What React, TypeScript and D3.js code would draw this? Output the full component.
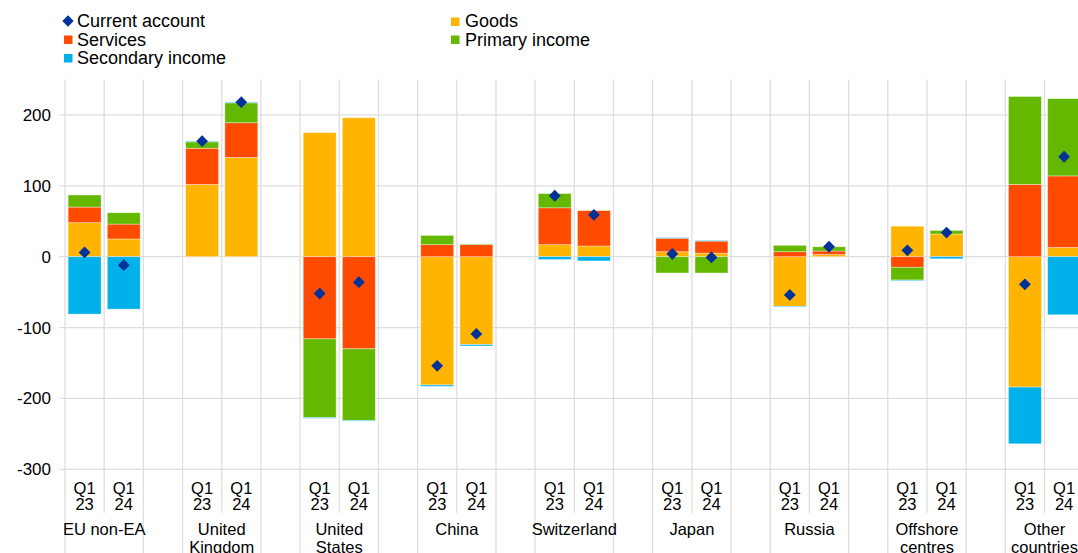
import React from 'react';
import * as d3 from 'd3';

const categories = ['EU non-EA', 'United Kingdom', 'United States', 'China', 'Switzerland', 'Japan', 'Russia', 'Offshore centres', 'Other countries'];
const categoryLines = [['EU non-EA'], ['United', 'Kingdom'], ['United', 'States'], ['China'], ['Switzerland'], ['Japan'], ['Russia'], ['Offshore', 'centres'], ['Other', 'countries']];
const periods = ['Q1 23', 'Q1 24'];

// one value per bar: category by category, Q1 23 then Q1 24
const goods = [48, 25, 102, 140, 175, 196, -181, -124, 17, 15, 7, 5, -70, 3, 43, 32, -184, 13];
const services = [22, 21, 51, 49, -116, -130, 17, 17, 52, 50, 19, 17, 7, 5, -15, 0, 102, 101];
const primaryIncome = [17, 16, 9, 28, -111, -101, 13, 1, 20, 0, -23, -23, 9, 6, -18, 5, 124, 109];
const secondaryIncome = [-81, -74, 1, 1, -1, -1, -2, -2, -4, -6, 1, 1, -1, 0, -1, -3, -80, -82];
const currentAccount = [6, -12, 163, 218, -52, -36, -154, -109, 86, 59, 4, -1, -54, 14, 9, 34, -39, 141];

const yTicks = [200, 100, 0, -100, -200, -300];

const seriesKeys = ['goods', 'services', 'primary', 'secondary'];
const colors = {
    goods: '#FFB400',
    services: '#FF4B00',
    primary: '#65B800',
    secondary: '#00B1EA',
    current: '#003299',
};

const W = 1078;
const H = 553;
const left = 65;
const slotW = 39.18;
const top = 79.5;
const bottom = 469.3;
const font = 'Arial, "Liberation Sans", sans-serif';

const App = () => {
    // every category gets two bar slots and one empty slot
    const slots: string[] = [];
    categories.forEach((c) => {
        slots.push(`${c}|0`, `${c}|1`, `${c}|gap`);
    });

    const x = d3.scaleBand().domain(slots).range([left, left + slots.length * slotW]).padding(0);
    const y = d3.scaleLinear().domain([-300, 250]).range([bottom, top]);
    const bw = x.bandwidth();
    const barW = bw * 0.84;

    const rows = goods.map((g, i) => ({
        key: `${categories[Math.floor(i / 2)]}|${i % 2}`,
        goods: g,
        services: services[i],
        primary: primaryIncome[i],
        secondary: secondaryIncome[i],
        current: currentAccount[i],
    }));

    const stacked = d3.stack().keys(seriesKeys).offset(d3.stackOffsetDiverging)(rows as any);
    const diamond = d3.symbol().type(d3.symbolSquare).size(70)();

    const gridColor = '#dedede';

    return (
        <svg width={W} height={H} style={{ position: 'absolute', left: 0, top: 0, background: '#fff' }} fontFamily={font}>
            {/* horizontal grid */}
            {yTicks.map((t) => (
                <g key={t}>
                    <line x1={59} x2={W + 60} y1={y(t)} y2={y(t)} stroke={gridColor} strokeWidth={1.3} />
                    <text x={51} y={y(t)} dy="0.35em" textAnchor="end" fontSize={17} fill="#000">{t}</text>
                </g>
            ))}

            {/* vertical grid */}
            {slots.map((s, k) => (
                <line key={s} x1={x(s)} x2={x(s)} y1={top} y2={k % 3 === 1 ? 513 : H} stroke={gridColor} strokeWidth={1.3} />
            ))}

            {/* stacked bars */}
            {stacked.map((layer) => (
                <g key={layer.key} fill={colors[layer.key]}>
                    {layer.map((d, i) => {
                        const y0 = y(Math.max(d[0], d[1]));
                        const y1 = y(Math.min(d[0], d[1]));
                        if (y1 - y0 <= 0) return null;
                        return (
                            <rect
                                key={i}
                                x={x(rows[i].key) + (bw - barW) / 2}
                                y={y0}
                                width={barW}
                                height={y1 - y0}
                                stroke="#fff"
                                strokeOpacity={0.45}
                                strokeWidth={0.8}
                            />
                        );
                    })}
                </g>
            ))}

            {/* current account */}
            {rows.map((r) => (
                <path
                    key={r.key}
                    d={diamond}
                    fill={colors.current}
                    transform={`translate(${x(r.key) + bw / 2},${y(r.current)}) rotate(45)`}
                />
            ))}

            {/* period labels */}
            {categories.map((c) =>
                periods.map((p, j) => {
                    const cx = x(`${c}|${j}`) + bw / 2;
                    const parts = p.split(' ');
                    return (
                        <g key={`${c}${p}`} fontSize={16.5} textAnchor="middle" fill="#000">
                            <text x={cx} y={493.5}>{parts[0]}</text>
                            <text x={cx} y={509.5}>{parts[1]}</text>
                        </g>
                    );
                })
            )}

            {/* category labels */}
            {categories.map((c, i) => {
                const cx = x(`${c}|1`);
                return (
                    <g key={c} fontSize={16.5} textAnchor="middle" fill="#000">
                        {categoryLines[i].map((line, l) => (
                            <text key={l} x={cx} y={535 + l * 17.5}>{line}</text>
                        ))}
                    </g>
                );
            })}

            {/* legend */}
            <g fontSize={18} fill="#000">
                <path d={d3.symbol().type(d3.symbolSquare).size(64)()} fill={colors.current} transform="translate(68,21) rotate(45)" />
                <text x={77} y={27}>Current account</text>
                <rect x={64} y={35.5} width={8.5} height={8.5} fill={colors.services} />
                <text x={77} y={45.5}>Services</text>
                <rect x={64} y={54} width={8.5} height={8.5} fill={colors.secondary} />
                <text x={77} y={64}>Secondary income</text>
                <rect x={451} y={17.5} width={8.5} height={8.5} fill={colors.goods} />
                <text x={465} y={27}>Goods</text>
                <rect x={451} y={35.5} width={8.5} height={8.5} fill={colors.primary} />
                <text x={465} y={45.5}>Primary income</text>
            </g>
        </svg>
    );
};

export default App;
